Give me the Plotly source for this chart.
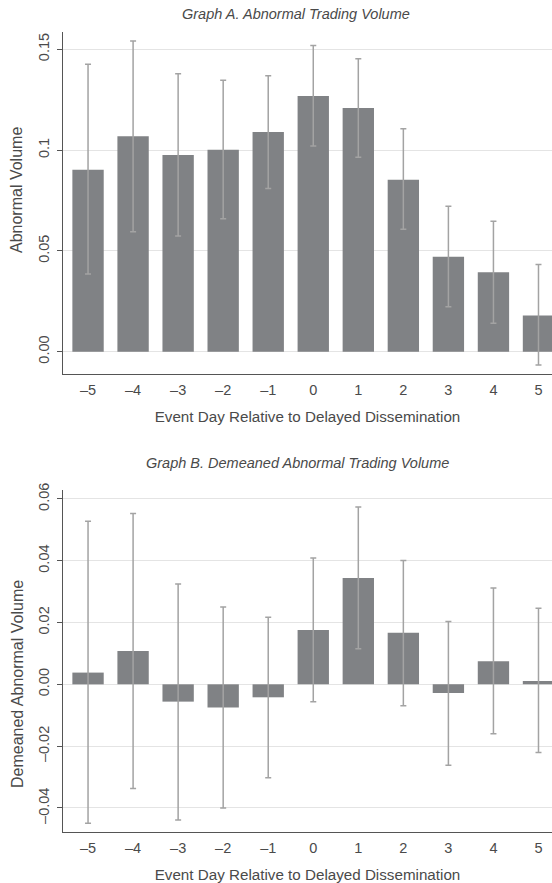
import numpy as np
import plotly.graph_objects as go

days = [-5, -4, -3, -2, -1, 0, 1, 2, 3, 4, 5]
day_labels = ["–5", "–4", "–3", "–2", "–1", "0", "1", "2", "3", "4", "5"]

# Graph A
abn_vol = [0.0903, 0.1068, 0.0976, 0.1002, 0.1090, 0.1268, 0.1209, 0.0853, 0.0471, 0.0394, 0.0180]
abn_hi = [0.1426, 0.1541, 0.1379, 0.1346, 0.1369, 0.1518, 0.1453, 0.1106, 0.0721, 0.0647, 0.0432]
abn_lo = [0.0385, 0.0595, 0.0574, 0.0660, 0.0810, 0.1020, 0.0964, 0.0607, 0.0223, 0.0141, -0.0066]
a_ticks = [0.0, 0.05, 0.1, 0.15]
a_ticklabels = ["0.00", "0.05", "0.1", "0.15"]

# Graph B
dem_vol = [0.0038, 0.0108, -0.0056, -0.0075, -0.0042, 0.0176, 0.0344, 0.0167, -0.0028, 0.0075, 0.0011]
dem_hi = [0.0528, 0.0553, 0.0325, 0.0250, 0.0217, 0.0409, 0.0574, 0.0401, 0.0203, 0.0312, 0.0246]
dem_lo = [-0.0450, -0.0337, -0.0439, -0.0400, -0.0302, -0.0056, 0.0115, -0.0069, -0.0262, -0.0160, -0.0221]
b_ticks = [-0.04, -0.02, 0.0, 0.02, 0.04, 0.06]
b_ticklabels = ["–0.04", "–0.02", "0.00", "0.02", "0.04", "0.06"]

W, H = 552, 883
L = 63
FONT = "Liberation Sans"
TXT = "#4a4a4a"
BAR = "#808285"
ERR = "#a3a3a3"
GRID = "#e4e4e4"
AXIS = "#555555"
FS = 14.5

fig = go.Figure()

def add_bars(x, y, hi, lo, xa, ya):
    y = np.array(y)
    fig.add_trace(go.Bar(
        x=x, y=y, xaxis=xa, yaxis=ya, width=0.696,
        marker=dict(color=BAR, line=dict(width=0)),
        error_y=dict(type="data", symmetric=False,
                     array=np.array(hi) - y, arrayminus=y - np.array(lo),
                     color=ERR, thickness=1.5, width=3),
        showlegend=False, hoverinfo="skip"))

add_bars(days, abn_vol, abn_hi, abn_lo, "x", "y")
add_bars(days, dem_vol, dem_hi, dem_lo, "x2", "y2")

def py(p):
    return 1 - p / H

def px(p):
    return (p - L) / (W - L)

xcommon = dict(range=[-5.556, 5.30], tickvals=days, ticktext=day_labels,
               showline=True, linecolor=AXIS, linewidth=1, ticks="",
               showgrid=False, zeroline=False, domain=[0, 1], automargin=False,
               ticklabelstandoff=3,
               tickfont=dict(family=FONT, size=FS, color=TXT),
               title=dict(text="Event Day Relative to Delayed Dissemination",
                          font=dict(family=FONT, size=15.2, color=TXT), standoff=14))
ycommon = dict(showline=True, linecolor=AXIS, linewidth=1, ticks="outside",
               ticklen=5, tickcolor=AXIS, tickangle=-90, automargin=False,
               ticklabelstandoff=2,
               showgrid=True, gridcolor=GRID, gridwidth=1, zeroline=False,
               tickfont=dict(family=FONT, size=FS, color=TXT))

ytitle_font = dict(family=FONT, size=16, color=TXT)

fig.update_layout(
    width=W, height=H, plot_bgcolor="white", paper_bgcolor="white",
    margin=dict(l=L, r=0, t=0, b=0),
    xaxis=dict(**xcommon, anchor="y"),
    xaxis2=dict(**xcommon, anchor="y2"),
    yaxis=dict(**ycommon, range=[-0.0109, 0.1584], tickvals=a_ticks, ticktext=a_ticklabels,
               domain=[py(373.7), py(32.3)], anchor="x"),
    yaxis2=dict(**ycommon, range=[-0.0478, 0.0629], tickvals=b_ticks, ticktext=b_ticklabels,
                domain=[py(832), py(490)], anchor="x2"),
    annotations=[
        dict(text="<i>Graph A. Abnormal Trading Volume</i>", xref="paper", yref="paper",
             x=px(295.5), y=py(14), xanchor="center", yanchor="middle",
             showarrow=False, font=dict(family=FONT, size=FS, color=TXT)),
        dict(text="<i>Graph B. Demeaned Abnormal Trading Volume</i>", xref="paper", yref="paper",
             x=px(297), y=py(463), xanchor="center", yanchor="middle",
             showarrow=False, font=dict(family=FONT, size=FS, color=TXT)),
        dict(text="Abnormal Volume", xref="paper", yref="paper", textangle=-90,
             x=px(17), y=py(190), xanchor="center", yanchor="middle",
             showarrow=False, font=ytitle_font),
        dict(text="Demeaned Abnormal Volume", xref="paper", yref="paper", textangle=-90,
             x=px(17), y=py(684), xanchor="center", yanchor="middle",
             showarrow=False, font=ytitle_font),
    ],
)

fig.write_html("out.html", config={"displayModeBar": False},
               post_script="document.body.style.margin='0';")
